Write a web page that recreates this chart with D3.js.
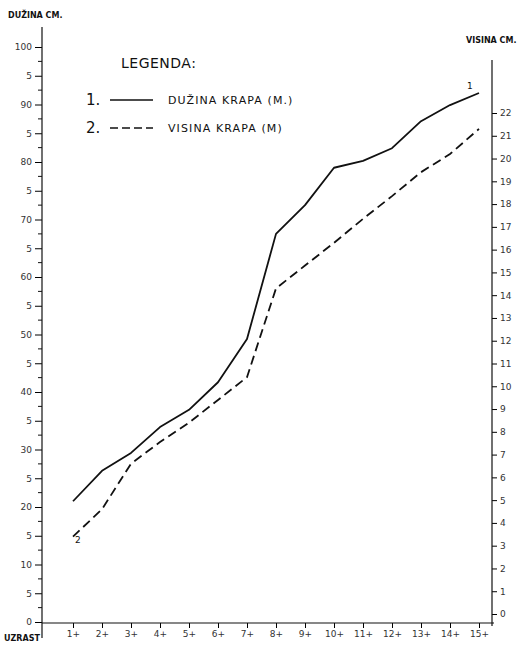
<!DOCTYPE html>
<html>
<head>
<meta charset="utf-8">
<script src="https://cdn.jsdelivr.net/npm/d3@7"></script>
<style>
  body { margin: 0; background: #fff; }
  svg text { font-family: "DejaVu Sans", sans-serif; fill: #111; }
</style>
</head>
<body>
<div id="chart"></div>
<script>
'use strict';

// age classes (uzrast) on the x axis
var ages = [1, 2, 3, 4, 5, 6, 7, 8, 9, 10, 11, 12, 13, 14, 15];
var ageLabels = ['1+', '2+', '3+', '4+', '5+', '6+', '7+', '8+', '9+', '10+', '11+', '12+', '13+', '14+', '15+'];

// 1. length of carp, cm (left axis)
var lengthCm = [21, 26.3, 29.4, 33.9, 36.9, 41.7, 49.2, 67.5, 72.5, 79, 80.2, 82.4, 87.1, 89.9, 92];
// 2. height of carp, cm (right axis)
var heightCm = [3.4, 4.6, 6.6, 7.55, 8.4, 9.4, 10.4, 14.3, 15.3, 16.3, 17.35, 18.35, 19.4, 20.2, 21.3];

var leftTicks = d3.range(0, 101, 5);
var leftMinor = d3.range(2.5, 100, 5);
var rightTicks = d3.range(0, 23);

var width = 524, height = 650;

var svg = d3.select('#chart').append('svg')
  .attr('width', width)
  .attr('height', height);

// scales
var x = d3.scaleLinear().domain([1, 15]).range([73, 479]);
var yL = d3.scaleLinear().domain([0, 100]).range([622, 47]);
var yR = d3.scaleLinear().domain([0, 22]).range([614, 113]);

var leftX = 42, rightX = 492, baseY = 623;

// left axis
var gl = svg.append('g').attr('transform', 'translate(' + leftX + ',0)')
  .call(d3.axisLeft(yL).tickValues(leftTicks).tickSize(7).tickPadding(3)
    .tickFormat(function(d){ return d % 10 === 0 ? d : '5'; }));
gl.select('.domain').remove();
gl.selectAll('text').attr('font-size', 9).style('fill', '#333');
gl.selectAll('.minor').data(leftMinor).enter().append('line')
  .attr('x1', -4).attr('x2', 0)
  .attr('y1', function(d){ return yL(d); }).attr('y2', function(d){ return yL(d); })
  .attr('stroke', '#111');
svg.append('line').attr('x1', leftX).attr('x2', leftX).attr('y1', 27).attr('y2', 638)
  .attr('stroke', '#111').attr('stroke-width', 1.2);

// right axis
var gr = svg.append('g').attr('transform', 'translate(' + rightX + ',0)')
  .call(d3.axisRight(yR).tickValues(rightTicks).tickSize(5).tickPadding(3)
    .tickFormat(function(d){ return d; }));
gr.select('.domain').remove();
gr.selectAll('text').attr('font-size', 9).style('fill', '#333');
svg.append('line').attr('x1', rightX).attr('x2', rightX).attr('y1', 60).attr('y2', 626)
  .attr('stroke', '#111').attr('stroke-width', 1.2);

// bottom axis
var gb = svg.append('g').attr('transform', 'translate(0,' + baseY + ')')
  .call(d3.axisBottom(x).tickValues(ages).tickSize(5).tickPadding(3)
    .tickFormat(function(d, i){ return ageLabels[i]; }));
gb.select('.domain').remove();
gb.selectAll('text').attr('font-size', 9).style('fill', '#333');
svg.append('line').attr('x1', leftX).attr('x2', rightX + 2).attr('y1', baseY).attr('y2', baseY)
  .attr('stroke', '#111').attr('stroke-width', 1.2);

// axis titles
svg.append('text').attr('x', 8).attr('y', 18).attr('font-size', 8).attr('font-weight', 'bold')
  .text('DUŽINA CM.');
svg.append('text').attr('x', 466).attr('y', 43).attr('font-size', 8).attr('font-weight', 'bold')
  .text('VISINA CM.');
svg.append('text').attr('x', 4).attr('y', 641).attr('font-size', 8).attr('font-weight', 'bold')
  .text('UZRAST');

// lines
var lineL = d3.line().x(function(d, i){ return x(ages[i]); }).y(function(d){ return yL(d); });
var lineR = d3.line().x(function(d, i){ return x(ages[i]); }).y(function(d){ return yR(d); });

svg.append('path').datum(lengthCm).attr('d', lineL)
  .attr('fill', 'none').attr('stroke', '#111').attr('stroke-width', 1.8)
  .attr('stroke-linejoin', 'round');
svg.append('path').datum(heightCm).attr('d', lineR)
  .attr('fill', 'none').attr('stroke', '#111').attr('stroke-width', 1.8)
  .attr('stroke-dasharray', '9,5');

// series labels
svg.append('text').attr('x', x(15) - 12).attr('y', yL(lengthCm[14]) - 4).attr('font-size', 9)
  .text('1');
svg.append('text').attr('x', x(1) + 2).attr('y', yR(heightCm[0]) + 6).attr('font-size', 9)
  .text('2');

// legend
var legend = svg.append('g');
legend.append('text').attr('x', 121).attr('y', 68).attr('font-size', 14)
  .attr('letter-spacing', 0.5).text('LEGENDA:');
var items = [
  { num: '1.', label: 'DUŽINA KRAPA (M.)', dash: null, y: 100 },
  { num: '2.', label: 'VISINA KRAPA (M)', dash: '8,4', y: 128 }
];
items.forEach(function(it){
  legend.append('text').attr('x', 86).attr('y', it.y + 5).attr('font-size', 15)
    .text(it.num);
  legend.append('line').attr('x1', 110).attr('x2', 153).attr('y1', it.y).attr('y2', it.y)
    .attr('stroke', '#111').attr('stroke-width', 1.6)
    .attr('stroke-dasharray', it.dash);
  legend.append('text').attr('x', 168).attr('y', it.y + 4).attr('font-size', 11)
    .attr('letter-spacing', 1.1).text(it.label);
});
</script>
</body>
</html>
